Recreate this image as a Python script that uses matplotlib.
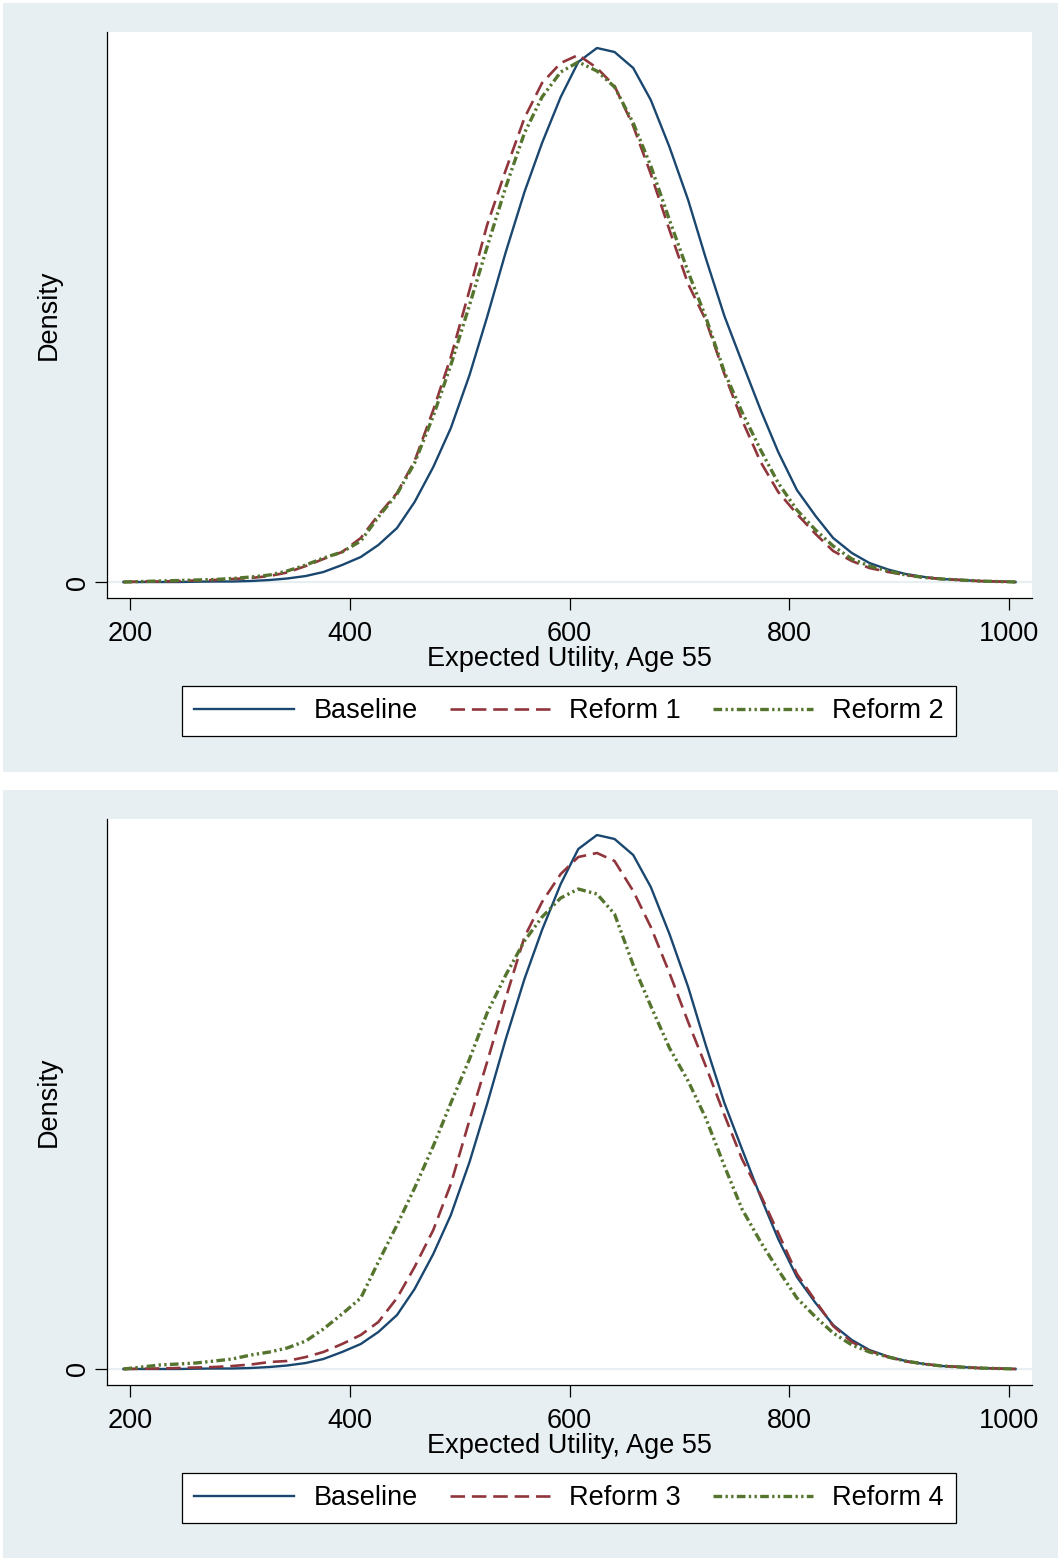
import numpy as np
import matplotlib
matplotlib.use("Agg")
import matplotlib.pyplot as plt
from matplotlib.patches import Rectangle
from matplotlib.lines import Line2D

"""
Kernel density of expected utility at age 55: baseline vs. reform scenarios
(two stacked Stata-style panels)
"""

plt.rcParams['font.family'] = ['Liberation Sans', 'DejaVu Sans']

# evaluation points of the kernel density (expected utility)
utility = [194, 211, 227, 244, 260, 277, 293, 310, 327, 343,
           360, 376, 393, 410, 426, 443, 459, 476, 492, 509,
           525, 542, 559, 575, 592, 608, 625, 641, 658, 674,
           691, 708, 724, 741, 757, 774, 790, 807, 824, 840,
           857, 873, 890, 906, 923, 939, 956, 972, 989, 1006]

# densities (arbitrary units, the original only labels 0)
baseline = [0, 0, 0, 0, 0.3, 0.5, 0.5, 1, 2, 3.5,
            6, 10, 17, 25, 37, 54, 80, 115, 154, 207,
            265, 330, 390, 439, 485, 520, 534, 530, 514, 482,
            435, 382, 324, 266, 220, 172, 130, 92, 66, 44,
            29, 19, 12.5, 8, 5, 3, 2, 1, 0.5, 0]

reform1 = [0, 0.5, 0.5, 1, 1.5, 2, 3, 4, 6, 9.5,
           16, 23, 30, 44, 67, 89, 121, 172, 225, 292,
           357, 412, 464, 499, 519, 527, 514, 496, 456, 408,
           352, 298, 262, 208, 162, 120, 90, 68, 48, 31,
           21, 14, 10, 7, 4.5, 3, 2, 1, 0.5, 0]

reform2 = [0, 0.5, 1, 1.5, 2, 2.5, 3.5, 5, 7, 11,
           17, 24, 30, 41, 65, 88, 119, 166, 217, 277,
           335, 395, 449, 485, 510, 520, 511, 495, 459, 416,
           362, 310, 265, 210, 170, 132, 99, 72, 52, 36,
           23, 16, 11, 7, 4.5, 3, 2, 1, 0.5, 0]

reform3 = [0, 0.3, 0.5, 1, 1.5, 2, 3, 4.5, 7, 8,
           12, 17, 25, 34, 47, 71, 102, 139, 185, 249,
           307, 371, 432, 467, 495, 512, 516, 508, 478, 442,
           396, 347, 303, 254, 210, 174, 136, 95, 68, 43,
           27, 18, 12, 7.5, 5, 3, 2, 1, 0.5, 0]

reform4 = [0, 2, 4, 5, 6, 8, 10, 14, 17, 21,
           28, 40, 55, 71, 107, 144, 181, 223, 266, 310,
           356, 394, 428, 452, 471, 480, 475, 455, 404, 363,
           321, 288, 251, 203, 160, 127, 99, 71, 52, 36,
           24, 17, 12, 8, 5, 3, 2, 1, 0.5, 0]

panels = [
    (["Baseline", "Reform 1", "Reform 2"], [baseline, reform1, reform2]),
    (["Baseline", "Reform 3", "Reform 4"], [baseline, reform3, reform4]),
]

x_ticks = [200, 400, 600, 800, 1000]

# stata s2color look
colors = ['#1a476f', '#90353b', '#55752f']
styles = ['-', (0, (5.5, 2.6)), (0, (2.6, 1.0, 0.7, 1.0, 0.7, 1.0))]
widths = [1.7, 1.9, 2.4]
bg = '#e8eff2'
fs = 19.5

W, H = 1058, 1558
fig = plt.figure(figsize=(W / 100, H / 100), dpi=100)

def px_rect(x0, y0, x1, y1):
    # pixel box (top-left origin) -> figure fraction [l, b, w, h]
    return [x0 / W, 1 - y1 / H, (x1 - x0) / W, (y1 - y0) / H]

offsets = [0, 787]
for (labels, series), off in zip(panels, offsets):
    # grey graph region
    l, b, w, h = px_rect(3, 3 + off, 1058, 772 + off if off == 0 else 1558)
    fig.add_artist(Rectangle((l, b), w, h, transform=fig.transFigure,
                             facecolor=bg, edgecolor='none', zorder=0))

    ax = fig.add_axes(px_rect(107, 32 + off, 1032, 598 + off))
    ax.set_facecolor('white')
    ax.axhline(0, color=bg, lw=1.6, zorder=1)

    handles = []
    for vals, c, ls, lw in zip(series, colors, styles, widths):
        ax.plot(utility, vals, color=c, linestyle=ls, lw=lw, zorder=3)
        handles.append(Line2D([], [], color=c, linestyle=ls, lw=lw))

    ax.set_xlim(179, 1021)
    ax.set_ylim(-16, 550)
    ax.set_xticks(x_ticks)
    ax.set_yticks([0])
    ax.tick_params(axis='both', labelsize=fs, length=8.5, width=0.9,
                   pad=8, direction='out', colors='black')
    ax.tick_params(axis='y', labelrotation=90, pad=3)
    for t in ax.get_yticklabels():
        t.set_va('center')
    for s in ['top', 'right']:
        ax.spines[s].set_visible(False)
    for s in ['left', 'bottom']:
        ax.spines[s].set_linewidth(0.9)

    ax.set_xlabel("Expected Utility, Age 55", fontsize=fs, labelpad=-1)
    ax.set_ylabel("Density", fontsize=fs, labelpad=2)

    lb = px_rect(182, 686 + off, 956, 736 + off)
    leg = ax.legend(handles, labels, loc='center', ncol=3, mode='expand',
                    bbox_to_anchor=lb, bbox_transform=fig.transFigure,
                    fontsize=fs, handlelength=3.7, handletextpad=0.7,
                    borderpad=0.45, borderaxespad=0, fancybox=False,
                    framealpha=1, edgecolor='black')
    leg.get_frame().set_linewidth(0.9)

plt.savefig("out.png", dpi=100, facecolor='white')
